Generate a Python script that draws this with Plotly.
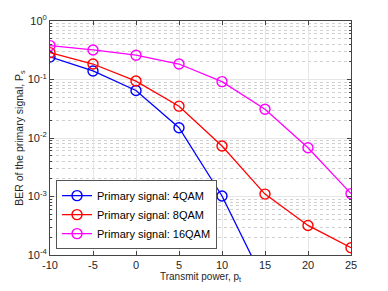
import plotly.graph_objects as go

power = [-10, -5, 0, 5, 10, 15, 20, 25]
ber_4qam = [0.243, 0.14, 0.065, 0.015, 1.02e-3, 3.3e-5]
ber_8qam = [0.288, 0.184, 0.094, 0.035, 7.3e-3, 1.1e-3, 3.2e-4, 1.33e-4]
ber_16qam = [0.38, 0.32, 0.26, 0.184, 0.092, 0.031, 6.8e-3, 1.12e-3]
names = ["Primary signal: 4QAM", "Primary signal: 8QAM", "Primary signal: 16QAM"]
colors = ["#0000ff", "#ff0000", "#ff00ff"]
x_ticks = [-10, -5, 0, 5, 10, 15, 20, 25]
x_ticktext = ["-10", "-5", "0", "5", "10", "15", "20", "25"]
y_tickvals = [1e-4, 1e-3, 1e-2, 1e-1, 1]
y_ticktext = ["10<sup>-4</sup>", "10<sup>-3</sup>", "10<sup>-2</sup>", "10<sup>-1</sup>", "10<sup>0</sup>"]
y_minor = [m * 10.0 ** e for e in (-4, -3, -2, -1) for m in range(2, 10)]

fig = go.Figure()
for ys, nm, c in zip([ber_4qam, ber_8qam, ber_16qam], names, colors):
    fig.add_trace(go.Scatter(
        x=power[:len(ys)], y=ys, name=nm, mode="lines+markers",
        line=dict(color=c, width=1.3),
        marker=dict(symbol="circle-open", size=10, color=c, line=dict(width=1.4, color=c)),
    ))

font = "Liberation Sans, Arial, sans-serif"
fig.update_layout(
    width=380, height=283,
    margin=dict(l=42, r=37, t=13, b=36),
    paper_bgcolor="white", plot_bgcolor="white",
    font=dict(family=font, size=10, color="#262626"),
    showlegend=True,
    legend=dict(x=0.02, y=0.32, xanchor="left", yanchor="top",
                bgcolor="white", bordercolor="#555555", borderwidth=1,
                font=dict(size=11, color="black"), tracegroupgap=0,
                itemwidth=30),
)
fig.update_xaxes(
    range=[-10, 25], tickvals=x_ticks, ticktext=x_ticktext, ticks="inside", ticklen=4,
    tickcolor="#444444", showline=True, linecolor="#444444", linewidth=1,
    mirror="ticks", showgrid=True, gridcolor="#e6e6e6", gridwidth=1,
    zeroline=False, tickfont=dict(size=11), automargin=False,
    title=dict(text="Transmit power, p<sub>t</sub>", font=dict(size=10), standoff=0),
)
fig.update_yaxes(
    type="log", range=[-4, 0], tickvals=y_tickvals, ticktext=y_ticktext,
    ticks="inside", ticklen=4, tickcolor="#444444", showline=True,
    linecolor="#444444", linewidth=1, mirror="ticks", showgrid=True,
    gridcolor="#e6e6e6", gridwidth=1, zeroline=False, tickfont=dict(size=11),
    automargin=False,
    minor=dict(tickmode="array", tickvals=y_minor, ticks="inside", ticklen=2,
               tickcolor="#444444", showgrid=True,
               gridcolor="#d0d0d0", griddash="dot", gridwidth=1),
    title=dict(text="BER of the primary signal, P<sub>s</sub>", font=dict(size=10.5), standoff=2),
)
fig.write_html("out.html")
